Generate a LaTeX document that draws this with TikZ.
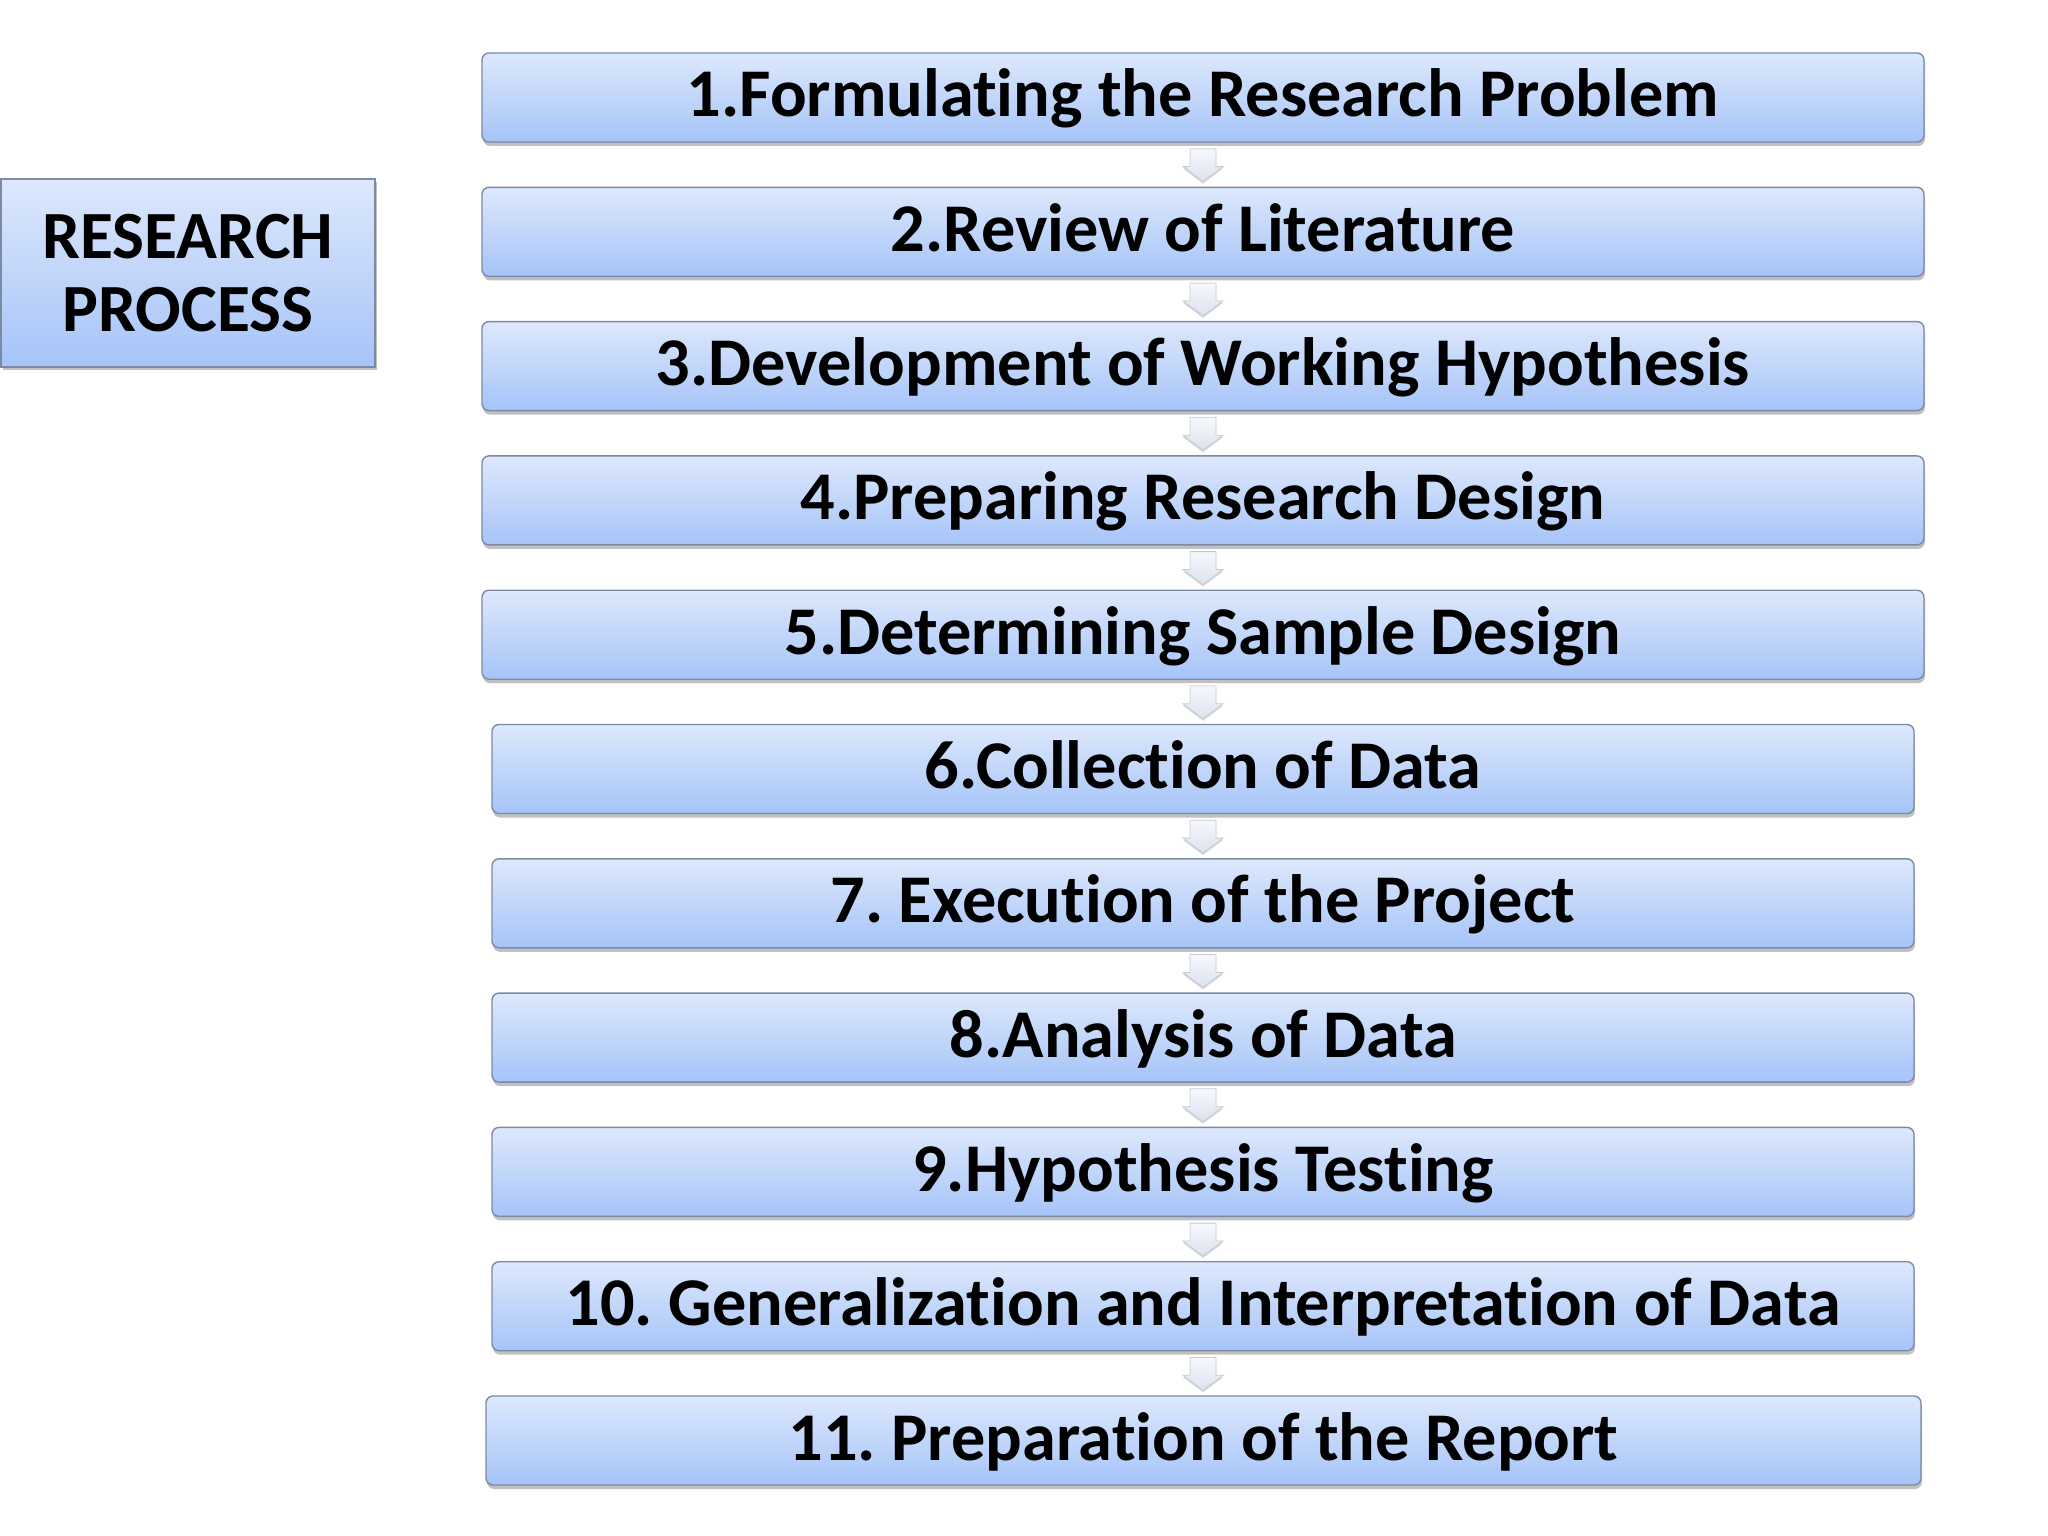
\documentclass[tikz,border=0pt]{standalone}
\usepackage{fontspec}
\setmainfont[Ligatures={NoCommon}]{Carlito}
\frenchspacing
\usetikzlibrary{shadows,calc}
\definecolor{boxtop}{HTML}{DDE8FC}
\definecolor{boxbot}{HTML}{A6C4F8}
\definecolor{boxline}{HTML}{7D8AA6}
\definecolor{arrtop}{HTML}{F6F8FC}
\definecolor{arrbot}{HTML}{DCE2EE}
\definecolor{arrline}{HTML}{C4CAD6}
\tikzset{
  stepbox/.style={rectangle, rounded corners=7pt, draw=boxline, line width=1.4pt,
    top color=boxtop, bottom color=boxbot, minimum height=89pt,
    inner sep=0pt, text height=44pt, text depth=5pt,
    font=\bfseries\fontsize{68.3}{82}\selectfont,
    drop shadow={shadow xshift=1pt, shadow yshift=-4pt, opacity=0.35, fill=black!70}},
  wide/.style={minimum width=1442pt},
  narrow/.style={minimum width=1422pt},
  last/.style={minimum width=1435pt},
  titlebox/.style={rectangle, draw=boxline, line width=1.4pt,
    top color=boxtop, bottom color=boxbot, minimum width=374pt, minimum height=188pt,
    inner sep=0pt, align=center,
    font=\bfseries\fontsize{67.5}{73}\selectfont,
    drop shadow={shadow xshift=2pt, shadow yshift=-3pt, opacity=0.35, fill=black!70}},
  flowarrow/.style={top color=arrtop, bottom color=arrbot, draw=arrline, line width=0.8pt,
    drop shadow={shadow xshift=0pt, shadow yshift=-2pt, opacity=0.25, fill=black!60}}
}
\newcommand{\flowarr}[2]{%
  \path[flowarrow] let \p1=(#1.south), \p2=(#2.north) in
    (\x1-13pt,\y1-6pt) -- (\x1+13pt,\y1-6pt) -- (\x1+13pt,\y2+20pt) --
    (\x1+20pt,\y2+20pt) -- (\x1,\y2+5pt) -- (\x1-20pt,\y2+20pt) --
    (\x1-13pt,\y2+20pt) -- cycle;}
\begin{document}
\begin{tikzpicture}[x=1pt,y=-1pt]
\fill[white] (0,0) rectangle (2048,1536);
\useasboundingbox (0,0) rectangle (2048,1536);

\node[titlebox] (title) at (188,273) {RESEARCH\\PROCESS};

\node[stepbox,wide] (b1) at (1203,97.5) {1.Formulating the Research Problem};
\node[stepbox,wide] (b2) at (1203,231.8) {2.Review of Literature};
\node[stepbox,wide] (b3) at (1203,366.1) {3.Development of Working Hypothesis};
\node[stepbox,wide] (b4) at (1203,500.4) {4.Preparing Research Design};
\node[stepbox,wide] (b5) at (1203,634.7) {5.Determining Sample Design};
\node[stepbox,narrow] (b6) at (1203,769.0) {6.Collection of Data};
\node[stepbox,narrow] (b7) at (1203,903.3) {7. Execution of the Project};
\node[stepbox,narrow] (b8) at (1203,1037.6) {8.Analysis of Data};
\node[stepbox,narrow] (b9) at (1203,1171.9) {9.Hypothesis Testing};
\node[stepbox,narrow] (b10) at (1203,1306.2) {10. Generalization and Interpretation of Data};
\node[stepbox,last] (b11) at (1203.5,1440.5) {11. Preparation of the Report};

\flowarr{b1}{b2}
\flowarr{b2}{b3}
\flowarr{b3}{b4}
\flowarr{b4}{b5}
\flowarr{b5}{b6}
\flowarr{b6}{b7}
\flowarr{b7}{b8}
\flowarr{b8}{b9}
\flowarr{b9}{b10}
\flowarr{b10}{b11}
\end{tikzpicture}
\end{document}
